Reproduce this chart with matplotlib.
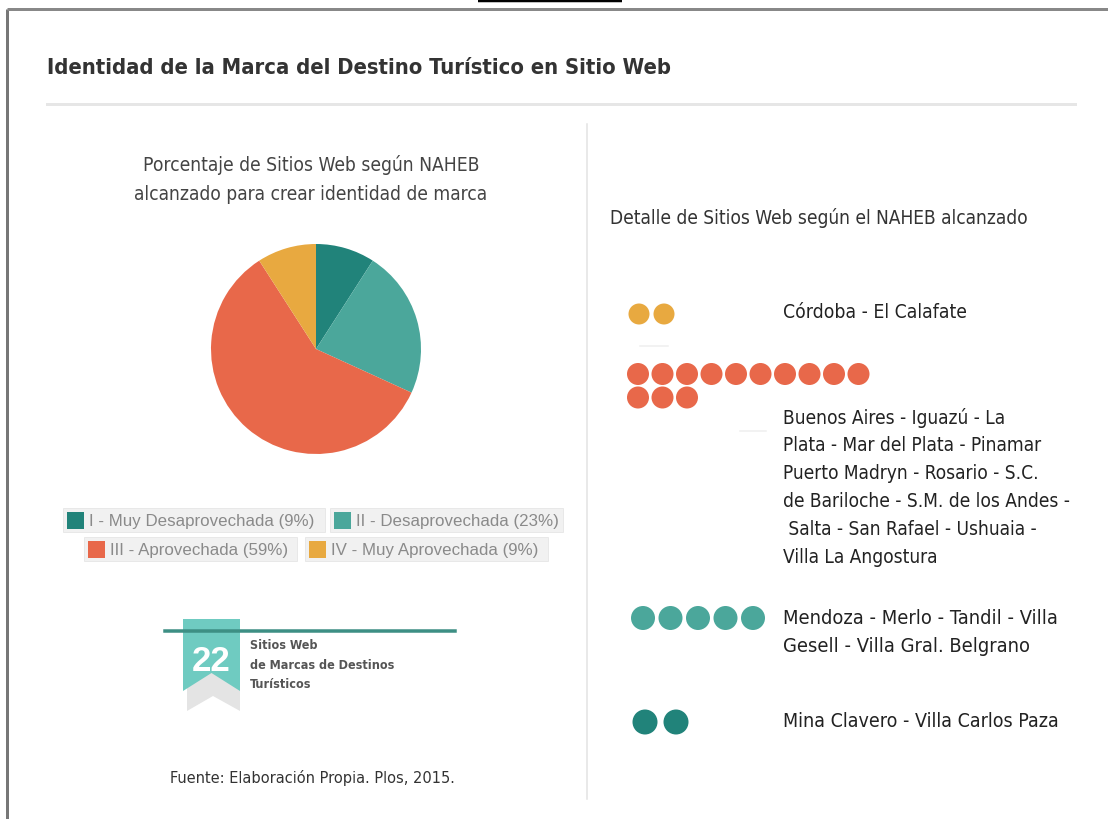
import matplotlib
matplotlib.use("Agg")
import matplotlib.pyplot as plt
from matplotlib.patches import Circle, Rectangle, Polygon

W, H = 1108, 820

# data
levels = ["I - Muy Desaprovechada", "II - Desaprovechada", "III - Aprovechada", "IV - Muy Aprovechada"]
counts = [2, 5, 13, 2]
colors = ["#21837a", "#4ba79b", "#e8684a", "#e8a940"]
total_sites = 22
cities = [
    "Mina Clavero - Villa Carlos Paza",
    "Mendoza - Merlo - Tandil - Villa\nGesell - Villa Gral. Belgrano",
    "Buenos Aires - Iguazú - La\nPlata - Mar del Plata - Pinamar\nPuerto Madryn - Rosario - S.C.\n"
    "de Bariloche - S.M. de los Andes -\n Salta - San Rafael - Ushuaia -\nVilla La Angostura",
    "Córdoba - El Calafate",
]

NARROW = ["DejaVu Sans"]
ARIAL = ["Liberation Sans", "DejaVu Sans"]

fig = plt.figure(figsize=(W / 100, H / 100), dpi=100)
ax = fig.add_axes([0, 0, 1, 1])
ax.set_xlim(0, W)
ax.set_ylim(H, 0)
ax.axis("off")
renderer = fig.canvas.get_renderer()

def px(v):
    return v * 0.72

def fit_lines(x, y0, text, step, width, **kw):
    # one text per line, then scale the font so the widest line spans `width` pixels
    kw.setdefault("family", NARROW)
    kw.setdefault("fontstretch", "condensed")
    kw.setdefault("va", "center")
    ts = [ax.text(x, y0 + i * step, s, **kw) for i, s in enumerate(text.split("\n"))]
    w = max(t.get_window_extent(renderer).width for t in ts)
    for t in ts:
        t.set_fontsize(t.get_fontsize() * width / w)
    return ts

# frame
ax.plot([7, 7], [10, H], color="#777777", lw=px(3), solid_capstyle="butt")
ax.plot([7, W], [10, 10], color="#888888", lw=px(3), solid_capstyle="butt")
ax.plot([478, 622], [2, 2], color="black", lw=px(2.5), solid_capstyle="butt")

# title
fit_lines(47, 68, "Identidad de la Marca del Destino Turístico en Sitio Web", 0, 620,
          fontsize=22, fontweight="bold", color="#333333", ha="left")
ax.plot([47, 1075], [105, 105], color="#e6e6e6", lw=px(3))
ax.plot([587, 587], [125, 800], color="#e2e2e2", lw=px(1.5))

# left subtitle
fit_lines(311, 165, "Porcentaje de Sitios Web según NAHEB\nalcanzado para crear identidad de marca",
          30, 355, fontsize=15.5, color="#444444", ha="center")

# pie
cx, cy, r = 316, 350, 105
pax = fig.add_axes([(cx - r) / W, (H - cy - r) / H, 2 * r / W, 2 * r / H])
pax.pie(counts, colors=colors, startangle=90, counterclock=False, radius=1)
pax.set_xlim(-1, 1)
pax.set_ylim(-1, 1)
pax.axis("off")

# legend boxes
pct = [round(100 * c / total_sites) for c in counts]
boxes = [(63, 509, 262), (330, 509, 233), (84, 538, 213), (305, 538, 243)]
for (bx, by, bw), lab, p, col in zip(boxes, levels, pct, colors):
    ax.add_patch(Rectangle((bx, by), bw, 24, facecolor="#f1f1f1", edgecolor="#e6e6e6", lw=0.6))
    ax.add_patch(Rectangle((bx + 4, by + 4), 17, 17, facecolor=col, edgecolor="none"))
    ax.text(bx + 26, by + 12.5, f"{lab} ({p}%)", family=ARIAL, fontsize=12.2,
            color="#8a8a8a", ha="left", va="center")

# ribbon badge
ax.add_patch(Polygon([(187, 660), (240, 660), (240, 712), (213, 697), (187, 712)],
                     facecolor="#e4e4e4", edgecolor="none"))
ax.plot([165, 455], [632, 632], color="#3d8f84", lw=px(3.5))
ax.add_patch(Polygon([(183, 620), (240, 620), (240, 692), (211.5, 674), (183, 692)],
                     facecolor="#6fcbc1", edgecolor="none"))
ax.text(211.5, 662, str(total_sites), family=ARIAL, fontsize=25, fontweight="bold",
        color="white", ha="center", va="center")
fit_lines(250, 646, "Sitios Web\nde Marcas de Destinos\nTurísticos", 19.5, 143,
          fontsize=11, fontweight="bold", color="#555555", ha="left")

# footer
fit_lines(312, 778, "Fuente: Elaboración Propia. Plos, 2015.", 0, 287,
          fontsize=14, color="#333333", ha="center")

# right panel
fit_lines(610, 218, "Detalle de Sitios Web según el NAHEB alcanzado", 0, 420,
          fontsize=15, color="#333333", ha="left")

# dot groups, listed from level IV down to level I
dot_layout = [
    # x0, y0, dx, radius, text y, text width
    (639, 315, 25, 10.5, 313, 183),
    (638, 375, 24.5, 11, 418, 287),
    (643, 619, 27.5, 12, 619, 275),
    (645, 723, 31, 12.5, 722, 275),
]
for i, (x0, y0, dx, rad, ty, tw) in enumerate(dot_layout):
    lvl = 3 - i
    for k in range(counts[lvl]):
        row, colnum = divmod(k, 10)
        ax.add_patch(Circle((x0 + colnum * dx, y0 + row * 23.5), rad,
                            facecolor=colors[lvl], edgecolor="none"))
    fit_lines(783, ty, cities[lvl], 28, tw, fontsize=15.5, color="#222222", ha="left")

# faint separators
ax.plot([640, 668], [347, 347], color="#eeeeee", lw=px(1.5))
ax.plot([740, 766], [432, 432], color="#eeeeee", lw=px(1.5))

fig.savefig("out.png", dpi=100, facecolor="white")
